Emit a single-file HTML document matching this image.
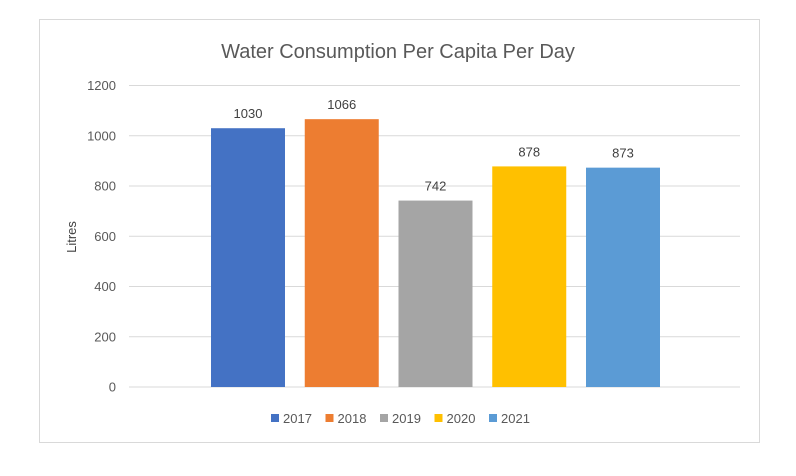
<!DOCTYPE html>
<html><head><meta charset="utf-8"><style>
body{margin:0;background:#fff;font-family:"Liberation Sans",sans-serif}
svg{display:block}
</style></head><body>
<svg width="796" height="476">
<rect x="39.5" y="19.5" width="720" height="423" fill="#fff" stroke="#d9d9d9"/>
<text x="398" y="58" text-anchor="middle" font-size="20" fill="#595959">Water Consumption Per Capita Per Day</text>
<text transform="translate(76,237) rotate(-90)" text-anchor="middle" font-size="13" fill="#404040">Litres</text>
<g id="grid"></g><g id="bars"></g><g id="legend"></g>
</svg>
<script>
const categories=["2017","2018","2019","2020","2021"];
const values=[1030,1066,742,878,873];
const colors=["#4472c4","#ed7d31","#a5a5a5","#ffc000","#5b9bd5"];
const ticks=[0,200,400,600,800,1000,1200];
const NS="http://www.w3.org/2000/svg";
const y0=387,yTop=85.5,yMax=1200,xL=129,xR=740;
const y=v=>y0-(y0-yTop)*v/yMax;
function mk(t,a,p){const e=document.createElementNS(NS,t);for(const k in a)e.setAttribute(k,a[k]);p.appendChild(e);return e;}
const grid=document.getElementById('grid');
ticks.forEach(t=>{
 const l=mk('line',{x1:xL,x2:xR,y1:y(t),y2:y(t),stroke:'#d9d9d9','stroke-width':1},grid);
 
 
 const tx=mk('text',{x:116,y:y(t)+4.5,'text-anchor':'end','font-size':13,fill:'#595959'},grid);
 tx.textContent=t;
 
 
});
const bars=document.getElementById('bars');
const bw=74,step=93.75,start=211;
values.forEach((v,i)=>{
 const x=start+i*step;
 const r=mk('rect',{x:x,y:y(v),width:bw,height:y0-y(v),fill:colors[i]},bars);
 
 
 const t=mk('text',{x:x+bw/2,y:y(v)-10,'text-anchor':'middle','font-size':13,fill:'#404040'},bars);
 t.textContent=v;
 
 
});
const lg=document.getElementById('legend');
categories.forEach((c,i)=>{
 const x=271+i*54.5;
 const s=mk('rect',{x:x,y:414,width:8,height:8,fill:colors[i]},lg);
 
 
 const t=mk('text',{x:x+12,y:423,'font-size':13,fill:'#595959'},lg);
 t.textContent=c;
 
 
});
</script>
</body></html>
